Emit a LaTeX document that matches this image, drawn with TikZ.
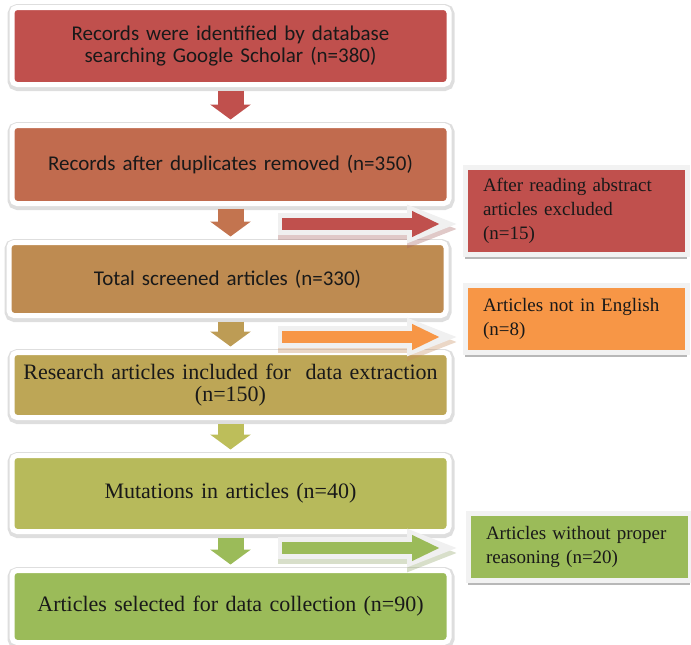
\documentclass[tikz,border=0pt]{standalone}
\usepackage{fontspec}
\setmainfont{Liberation Serif}
\newfontfamily\calfont{Carlito}
\usetikzlibrary{arrows.meta, positioning, shadows}

\definecolor{redbox}{HTML}{C0504D}
\definecolor{rustbox}{HTML}{C16B4E}
\definecolor{tanbox}{HTML}{BE8B51}
\definecolor{olivebox}{HTML}{BDA656}
\definecolor{limebox}{HTML}{B7BA5B}
\definecolor{greenbox}{HTML}{9BBB59}
\definecolor{orangebox}{HTML}{F79646}
\definecolor{rustarrow}{HTML}{C3744F}
\definecolor{tanarrow}{HTML}{BD9C55}
\definecolor{limearrow}{HTML}{BDBE5A}

\begin{document}
\begin{tikzpicture}[x=1pt, y=-1pt,
  stage/.style={rectangle, rounded corners=5pt, draw=white, line width=5pt,
    outer sep=0pt, minimum width=437pt, text width=425pt, align=center, text=black!90,
    preaction={draw=black!13, line width=10pt, transform canvas={xshift=.5pt, yshift=-1.5pt}}},
  sans/.style={font=\calfont\fontsize{21}{22}\selectfont},
  serif/.style={font=\fontsize{22}{22}\selectfont},
  note/.style={rectangle, draw=black!5, line width=5pt, outer sep=0pt,
    minimum width=222pt, text width=186pt, align=left, text=black!90,
    font=\fontsize{19}{24}\selectfont,
    drop shadow={shadow xshift=0pt, shadow yshift=-5pt, opacity=.28, fill=black}},
  down/.style={line width=26pt, -{Triangle[length=15pt, width=40pt]}},
  flowshade/.style={line width=22pt, -{Triangle[length=53pt, width=34pt]}, opacity=.35},
  flowrim/.style={line width=22pt, draw=black!6, -{Triangle[length=53pt, width=34pt]}},
  flowcore/.style={line width=12pt, -{Triangle[length=28pt, width=24pt]}}
]
\useasboundingbox (0,0) rectangle (691,645);

% main column
\node[stage, sans, fill=redbox, minimum height=77pt] (records) at (230.5,46)
  {Records were identified by database\\searching Google Scholar (n=380)};
\node[stage, sans, fill=rustbox, minimum height=78pt, below=41pt of records] (dedup)
  {Records after duplicates removed (n=350)};
\node[stage, sans, fill=tanbox, minimum height=73pt, below=39pt of dedup, xshift=-3pt] (screened)
  {Total screened articles (n=330)};
\node[stage, serif, fill=olivebox, minimum height=65pt, below=37pt of screened, xshift=3pt] (research)
  {Research articles included for~ data extraction\\(n=150)};
\node[stage, serif, fill=limebox, minimum height=76pt, below=38pt of research] (mutation)
  {Mutations in articles (n=40)};
\node[stage, serif, fill=greenbox, minimum height=72pt, below=39pt of mutation] (selected)
  {Articles selected for data collection (n=90)};

% side boxes
\node[note, fill=redbox, minimum height=87pt] (excl) at (576,210.5)
  {After reading abstract\\articles excluded\\(n=15)};
\node[note, fill=orangebox, minimum height=67pt] (english) at (576,318.5)
  {Articles not in English\\(n=8)};
\node[note, fill=greenbox, minimum height=67pt] (reason) at (579,546.5)
  {Articles without proper\\reasoning (n=20)};

% down arrows
\draw[down, redbox] ([yshift=-6pt]records.south) -- ([yshift=6pt]dedup.north);
\draw[down, rustarrow] ([yshift=-5pt]dedup.south) -- ([yshift=6pt]dedup.south |- screened.north);
\draw[down, tanarrow] ([yshift=-6pt]screened.south -| records.south) -- ([yshift=6pt]research.north);
\draw[down, limearrow] ([yshift=-6pt]research.south) -- ([yshift=6pt]mutation.north);
\draw[down, greenbox] ([yshift=-6pt]mutation.south) -- ([yshift=6pt]selected.north);

% side arrows
\coordinate (exA) at (278,224);  \coordinate (exB) at (460,224);
\coordinate (enA) at (278,337);  \coordinate (enB) at (460,337);
\coordinate (reA) at (278,548);  \coordinate (reB) at (460,548);

\draw[flowshade, redbox!60!gray] ([yshift=-5pt]exA) -- ([yshift=-5pt]exB);
\draw[flowrim] (exA) -- (exB);
\draw[flowcore, redbox] ([xshift=4pt]exA) -- ([xshift=-20pt]exB);

\draw[flowshade, orangebox!60!gray] ([yshift=-5pt]enA) -- ([yshift=-5pt]enB);
\draw[flowrim] (enA) -- (enB);
\draw[flowcore, orangebox] ([xshift=4pt]enA) -- ([xshift=-20pt]enB);

\draw[flowshade, greenbox!60!gray] ([yshift=-5pt]reA) -- ([yshift=-5pt]reB);
\draw[flowrim] (reA) -- (reB);
\draw[flowcore, greenbox] ([xshift=4pt]reA) -- ([xshift=-20pt]reB);
\end{tikzpicture}
\end{document}
